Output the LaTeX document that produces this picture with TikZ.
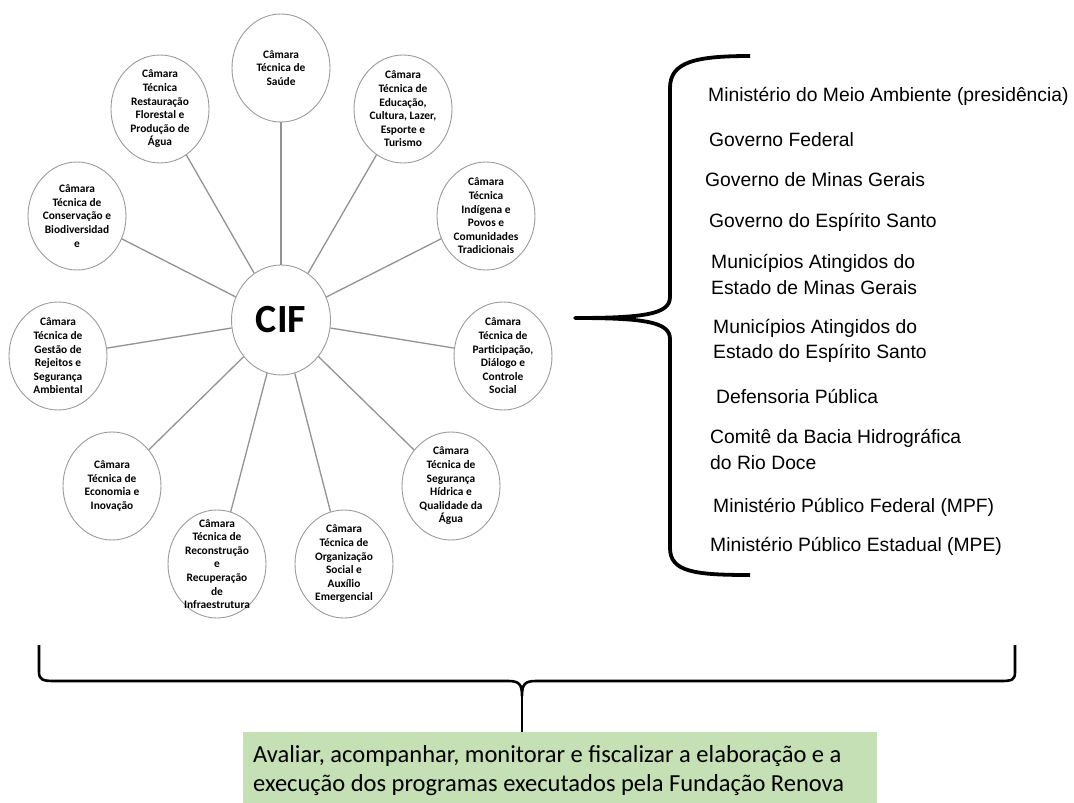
\documentclass[tikz,border=0pt]{standalone}
\usepackage{fontspec}
\setmainfont{Carlito}
\newfontfamily\arialfont{Liberation Sans}
\usetikzlibrary{shapes.geometric}
\definecolor{boxgreen}{HTML}{C5E0B4}
\definecolor{edgegray}{HTML}{929292}
\definecolor{rimgray}{HTML}{9A9A9A}
\begin{document}
\begin{tikzpicture}[x=1pt,y=-1pt,
  cam/.style={ellipse, draw=rimgray, line width=0.9pt, minimum width=98pt, minimum height=108pt, inner sep=0pt},
  lbl/.style={inner sep=0pt, align=center, font=\bfseries\fontsize{11.4}{13.6}\selectfont},
  link/.style={draw=edgegray, line width=1.3pt},
  member/.style={anchor=west, inner sep=0pt, align=left, font=\arialfont\fontsize{19.3}{25.5}\selectfont},
  bracepath/.style={line width=3.8pt, line join=round},
  goalbox/.style={fill=boxgreen, minimum width=634pt, minimum height=71pt, inner sep=0pt},
  goaltext/.style={anchor=west, inner sep=0pt, align=left, font=\fontsize{24.5}{29}\selectfont}
]
\useasboundingbox (0,0) rectangle (1074,803);

% central node
\node[ellipse, draw=rimgray, line width=0.9pt, minimum width=99pt, minimum height=110pt, inner sep=0pt,
      font=\bfseries\fontsize{40}{40}\selectfont] (cif) at (281,320) {CIF};

% chambers
\node[cam] (c1) at (281,68) {};
\node[lbl] (t1) at (c1) {Câmara\\Técnica de\\Saúde};
\node[cam] (c2) at (160,109) {};
\node[lbl] (t2) at (c2) {Câmara\\Técnica\\Restauração\\Florestal e\\Produção de\\Água};
\node[cam] (c3) at (403,109) {};
\node[lbl] (t3) at (c3) {Câmara\\Técnica de\\Educação,\\Cultura, Lazer,\\Esporte e\\Turismo};
\node[cam] (c4) at (77,216) {};
\node[lbl] (t4) at (c4) {Câmara\\Técnica de\\Conservação e\\Biodiversidad\\e};
\node[cam] (c5) at (486,216) {};
\node[lbl] (t5) at (c5) {Câmara\\Técnica\\Indígena e\\Povos e\\Comunidades\\Tradicionais};
\node[cam] (c6) at (58,356) {};
\node[lbl] (t6) at (c6) {Câmara\\Técnica de\\Gestão de\\Rejeitos e\\Segurança\\Ambiental};
\node[cam] (c7) at (503,356) {};
\node[lbl] (t7) at (c7) {Câmara\\Técnica de\\Participação,\\Diálogo e\\Controle\\Social};
\node[cam] (c8) at (112,486) {};
\node[lbl] (t8) at (c8) {Câmara\\Técnica de\\Economia e\\Inovação};
\node[cam] (c9) at (451,486) {};
\node[lbl] (t9) at (c9) {Câmara\\Técnica de\\Segurança\\Hídrica e\\Qualidade da\\Água};
\node[cam] (c10) at (217,564) {};
\node[lbl] (t10) at (c10) {Câmara\\Técnica de\\Reconstrução\\e\\Recuperação\\de\\Infraestrutura};
\node[cam] (c11) at (344,564) {};
\node[lbl] (t11) at (c11) {Câmara\\Técnica de\\Organização\\Social e\\Auxílio\\Emergencial};

\foreach \i in {1,...,11} { \draw[link] (cif) -- (c\i); }

% right brace
\draw[bracepath] (750,56) .. controls (695,56) and (670,62) .. (670,88)
  -- (670,297) .. controls (670,314) and (645,318) .. (575,318)
  .. controls (645,318) and (670,322) .. (670,339)
  -- (670,548) .. controls (670,572) and (695,575) .. (750,575);

% members
\node[member] (m1) at (708,96) {Ministério do Meio Ambiente (presidência)};
\node[member] (m2) at (709,140) {Governo Federal};
\node[member] (m3) at (705,180) {Governo de Minas Gerais};
\node[member] (m4) at (709,222) {Governo do Espírito Santo};
\node[member] (m5) at (711,274.5) {Municípios Atingidos do\\Estado de Minas Gerais};
\node[member] (m6) at (713,341) {Municípios Atingidos do\\Estado do Espírito Santo};
\node[member] (m7) at (716,396) {Defensoria Pública};
\node[member] (m8) at (710,449.5) {Comitê da Bacia Hidrográfica\\do Rio Doce};
\node[member] (m9) at (713,507) {Ministério Público Federal (MPF)};
\node[member] (m10) at (710,546) {Ministério Público Estadual (MPE)};

% bottom brace
\draw[line width=2.6pt, line join=round] (39,645) -- (39,672) .. controls (39,680) and (43,681) .. (55,681)
  -- (508,681) .. controls (519,681) and (522,684) .. (522,696)
  .. controls (522,684) and (525,681) .. (536,681)
  -- (1000,681) .. controls (1012,681) and (1015,680) .. (1015,672) -- (1015,645);
\node[goalbox] (g) at (560,767.5) {};
\coordinate (tip) at (522,696);
\draw[line width=2.6pt] (tip) -- (tip |- g.north);
\node[goaltext] (gt) at (253,771) {Avaliar, acompanhar, monitorar e fiscalizar a elaboração e a\\execução dos programas executados pela Fundação Renova};
\end{tikzpicture}
\end{document}
